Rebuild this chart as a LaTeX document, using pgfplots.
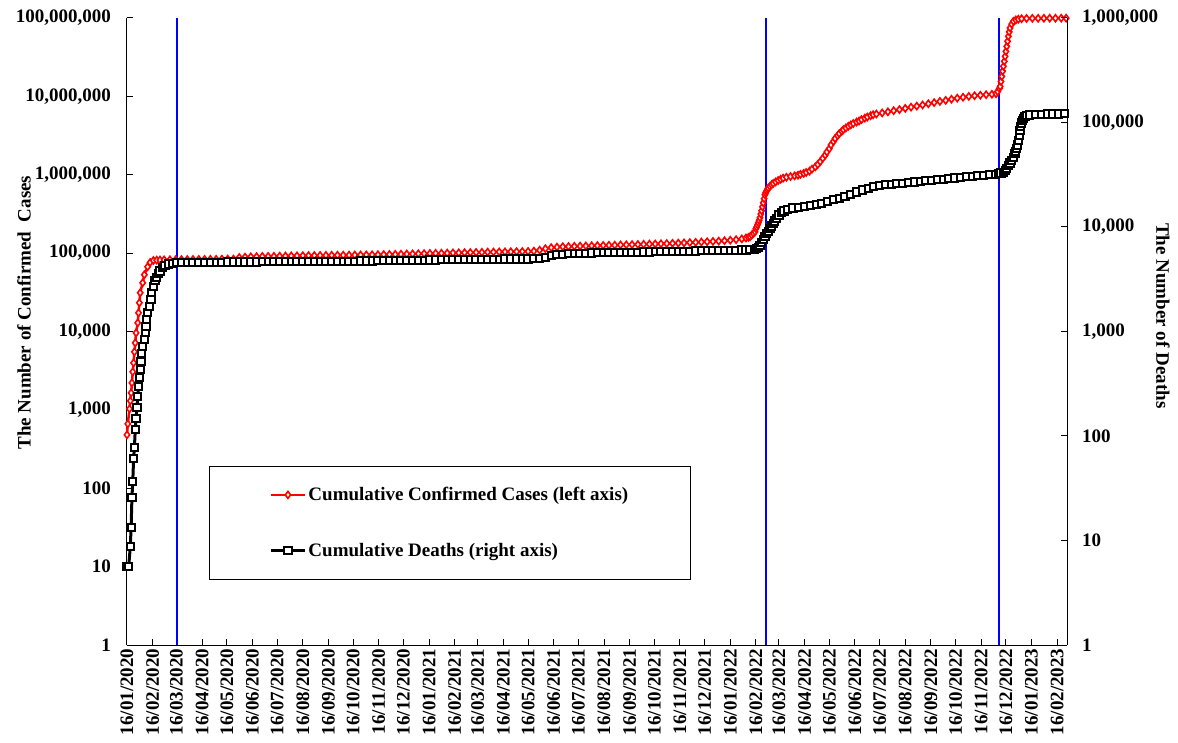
\documentclass[border=0pt]{standalone}
\usepackage{fontspec}
\setmainfont{Liberation Serif}
\usepackage{pgfplots}
\pgfplotsset{compat=1.18}

\pgfplotsset{
  cases/.style={red, line width=2.5pt, mark=diamond*, mark size=3.5pt,
    mark options={fill=white, draw=red, line width=1.6pt}},
  deaths/.style={black, line width=3pt, mark=square*, mark size=3.6pt,
    mark options={fill=white, draw=black, line width=2pt}},
}

\begin{document}
\begin{tikzpicture}[font=\fontsize{19}{23}\selectfont\bfseries]
\path[use as bounding box] (-127pt,-97pt) rectangle (1051pt,645pt);

\begin{axis}[
  at={(0pt,0pt)}, anchor=south west,
  width=940pt, height=627pt, scale only axis,
  xmin=0, xmax=1139,
  ymode=log, ymin=1, ymax=100000000,
  clip=false,
  tick align=inside, major tick length=6pt,
  yminorticks=false, xminorticks=false,
  axis line style={line width=1pt},
  tick style={line width=1pt, black},
  axis x line*=bottom, axis y line*=left,
  xtick={0,31,60,91,121,152,182,213,244,274,305,335,366,397,425,456,486,517,547,578,609,639,670,700,731,762,790,821,851,882,912,943,974,1004,1035,1065,1096,1127},
  xticklabels={16/01/2020,16/02/2020,16/03/2020,16/04/2020,16/05/2020,16/06/2020,16/07/2020,16/08/2020,16/09/2020,16/10/2020,16/11/2020,16/12/2020,16/01/2021,16/02/2021,16/03/2021,16/04/2021,16/05/2021,16/06/2021,16/07/2021,16/08/2021,16/09/2021,16/10/2021,16/11/2021,16/12/2021,16/01/2022,16/02/2022,16/03/2022,16/04/2022,16/05/2022,16/06/2022,16/07/2022,16/08/2022,16/09/2022,16/10/2022,16/11/2022,16/12/2022,16/01/2023,16/02/2023},
  xticklabel style={rotate=90, anchor=east},
  ytick={1,10,100,1000,10000,100000,1000000,10000000,100000000},
  yticklabels={1,10,100,{1,000},{10,000},{100,000},{1,000,000},{10,000,000},{100,000,000}},
  yticklabel style={xshift=-12.5pt},
  ylabel={The Number of Confirmed\ \ Cases},
  every axis y label/.style={at={(axis description cs:-0.1096,0.53)}, rotate=90, anchor=center},
  legend cell align=left,
  legend style={at={(0.0872,0.2855)}, anchor=north west, draw=black, line width=1pt,
    inner xsep=60pt, inner ysep=19pt, row sep=37pt, nodes={inner sep=2pt}},
  legend image code/.code={\draw[mark repeat=2,mark phase=2,#1] plot coordinates {(0pt,0pt) (17pt,0pt) (34pt,0pt)};},
]
\addplot[blue, line width=2pt, forget plot] coordinates {(60,1) (60,100000000)};
\addplot[blue, line width=2pt, forget plot] coordinates {(774,1) (774,100000000)};
\addplot[blue, line width=2pt, forget plot] coordinates {(1056,1) (1056,100000000)};

\addplot[cases] coordinates {
(0,480) (1,663) (3,1030) (4,1303) (5,1649) (6,2212) (7,3055) (8,3981) (9,5505) (10,7167) (11,9610) (13,12900) (14,17300) (15,23230) (16,31180) (19,41860) (21,52950) (25,66950) (28,76000) (32,80500) (36,81300) (40,81600)
(45,82000) (52,82300) (59,82500) (66,82700) (73,82900) (80,83000) (87,83100) (94,83200) (101,83400) (108,83500) (115,83700) (122,84000) (129,84000) (136,88000) (143,89000) (150,89800) (157,90300) (164,90700) (171,91000) (178,91300) (185,91600) (192,91900) (199,92200) (206,92500) (213,92800) (220,93100) (227,93300) (234,93500) (241,93700) (248,93900) (255,94000) (262,94200) (269,94400) (276,94600) (283,94800) (290,95000) (297,95300) (304,95600) (311,95900) (318,96200) (325,96600) (332,97000) (339,97400) (346,97800) (353,98200) (360,98600) (367,99000) (374,99400) (381,99800) (388,100200) (395,100600) (402,101000) (409,101400) (416,101800) (423,102200) (430,102600) (437,103000) (444,103300) (451,103600) (458,103900) (465,104200) (472,104500) (479,104800) (486,105100) (493,106000) (500,109000) (507,114000) (514,117500) (521,119500) (528,120800) (535,121500) (542,122300) (549,123000) (556,123600) (563,124200) (570,124800) (577,125400) (584,126000) (591,126600) (598,127200) (605,127800) (612,128400) (619,129000) (626,129600) (633,130300) (640,131000) (647,131800) (654,132600) (661,133400) (668,134300) (675,135200) (682,136200) (689,137300) (696,138500) (703,139700) (710,141000) (717,142500) (724,144000) (731,146000) (738,148500) (745,152000) (750,156000) (753,159000)
(755,162000) (757,170000) (759,178000) (761,187000) (762,205000) (763,215000) (764,230000) (765,245000) (766,262000) (767,283000) (768,315000) (769,347000) (770,390000) (771,439000) (772,495000) (773,556000) (774,590000) (775,620000) (776,650000) (777,676000) (779,710000) (781,745000) (783,775000) (786,810000) (789,845000) (792,875000) (795,905000) (799,930000) (804,950000) (809,968000) (813,985000) (816,1010000) (820,1040000) (823,1070000) (827,1110000) (830,1180000) (834,1260000) (837,1350000) (840,1470000) (843,1620000) (846,1780000) (848,1950000) (851,2150000) (853,2400000) (856,2650000) (858,2900000) (861,3150000) (863,3350000) (866,3580000) (868,3750000) (871,3950000) (874,4150000) (877,4320000) (880,4500000) (884,4700000) (887,4850000) (890,5050000) (894,5280000) (897,5450000) (901,5670000) (904,5840000) (908,5950000) (915,6150000) (922,6350000) (929,6560000) (936,6790000) (943,7030000) (950,7280000) (957,7520000) (964,7780000) (971,8050000) (978,8330000) (985,8630000) (992,8900000) (999,9200000) (1006,9500000) (1013,9750000) (1020,10000000) (1027,10200000) (1034,10350000) (1041,10500000) (1048,10650000) (1053,10800000)
(1055,11500000) (1057,12600000) (1058,13400000) (1059,15500000) (1060,18000000) (1061,21000000) (1062,24200000) (1063,28000000) (1064,32400000) (1065,37500000) (1066,43500000) (1067,50500000) (1068,58300000) (1069,66500000) (1070,74600000) (1072,83500000) (1074,90600000) (1077,94500000) (1080,96500000) (1084,97800000) (1090,98600000) (1097,99000000) (1104,99200000) (1111,99300000) (1118,99400000) (1125,99400000) (1132,99500000) (1138,99500000)
};
\addlegendentry{Cumulative Confirmed Cases (left axis)}
\addlegendimage{deaths}
\addlegendentry{Cumulative Deaths (right axis)}
\end{axis}

\begin{axis}[
  at={(0pt,0pt)}, anchor=south west,
  width=940pt, height=627pt, scale only axis,
  xmin=0, xmax=1139,
  ymode=log, ymin=1, ymax=1000000,
  clip=false,
  tick align=inside, major tick length=6pt,
  yminorticks=false, xminorticks=false,
  axis line style={line width=1pt},
  tick style={line width=1pt, black},
  axis x line=none, axis y line*=right,
  ytick={1,10,100,1000,10000,100000,1000000},
  yticklabels={1,10,100,{1,000},{10,000},{100,000},{1,000,000}},
  yticklabel style={xshift=11.5pt},
  ylabel={The Number of Deaths},
  every axis y label/.style={at={(axis description cs:1.102,0.525)}, rotate=-90, anchor=center},
]
\addplot[deaths] coordinates {
(0,5.6) (2,5.6) (4,8.7) (5,13.4) (6,26) (7,36.6) (8,61) (9,78) (10,115) (11,148) (12,188) (13,239) (14,297) (15,360) (16,430) (17,513) (18,612) (19,718) (21,833) (22,972) (23,1117) (24,1295) (25,1511) (27,1735) (29,2012) (30,2348) (32,2698) (34,3050) (36,3300) (38,3600) (40,3800) (43,4100) (46,4300) (50,4420) (55,4500) (60,4540)
(66,4560) (73,4580) (80,4590) (87,4600) (94,4600) (101,4605) (108,4610) (115,4610) (122,4615) (129,4620) (136,4620) (143,4625) (150,4630) (157,4630) (164,4635) (171,4640) (178,4645) (185,4650) (192,4655) (199,4660) (206,4665) (213,4670) (220,4675) (227,4680) (234,4685) (241,4690) (248,4695) (255,4700) (262,4705) (269,4710) (276,4715) (283,4720) (290,4725) (297,4730) (304,4740) (311,4750) (318,4760) (325,4770) (332,4780) (339,4790) (346,4800) (353,4810) (360,4820) (367,4830) (374,4840) (381,4850) (388,4860) (395,4870) (402,4880) (409,4890) (416,4900) (423,4905) (430,4910) (437,4915) (444,4920) (451,4925) (458,4930) (465,4935) (472,4940) (479,4945) (486,4950) (493,4970) (500,5000) (507,5150) (514,5300) (521,5420) (528,5500) (535,5550) (542,5580) (549,5600) (556,5620) (563,5640) (570,5660) (577,5680) (584,5700) (591,5710) (598,5720) (605,5730) (612,5740) (619,5750) (626,5760) (633,5770) (640,5780) (647,5790) (654,5800) (661,5820) (668,5840) (675,5860) (682,5880) (689,5900) (696,5920) (703,5940) (710,5955) (717,5970) (724,5985) (731,6000) (738,6010) (745,6020) (750,6030) (755,6040) (760,6060)
(763,6200) (765,6400) (767,6700) (769,7100) (771,7600) (773,8100) (775,8600) (777,9100) (779,9700) (781,10200) (783,10800) (785,11400) (787,12100) (790,13000) (793,13700) (796,14200) (800,14700) (807,15200) (814,15500) (821,15700) (828,16000) (835,16400) (842,16900) (849,17500) (856,18200) (863,18900) (870,19700) (877,20600) (884,21600) (891,22600) (898,23400) (905,24200) (912,24800) (919,25300) (926,25700) (933,26000) (940,26300) (947,26600) (954,27000) (961,27300) (968,27700) (975,28000) (982,28400) (989,28700) (996,29100) (1003,29500) (1010,29800) (1017,30200) (1024,30500) (1031,30900) (1038,31200) (1045,31600) (1052,32000) (1056,32300) (1059,32800) (1062,33500) (1064,34800) (1066,36500) (1068,38500) (1070,41000) (1072,43500) (1074,46500) (1076,50500) (1077,53000) (1078,56000) (1079,61000) (1080,67000) (1081,75000) (1082,84000) (1083,92000) (1084,99000) (1085,105000) (1086,110000) (1088,114000) (1090,116000) (1094,118000) (1101,119500) (1108,120200) (1115,120500) (1122,120700) (1129,120800) (1136,120900)
};
\end{axis}
\end{tikzpicture}
\end{document}
